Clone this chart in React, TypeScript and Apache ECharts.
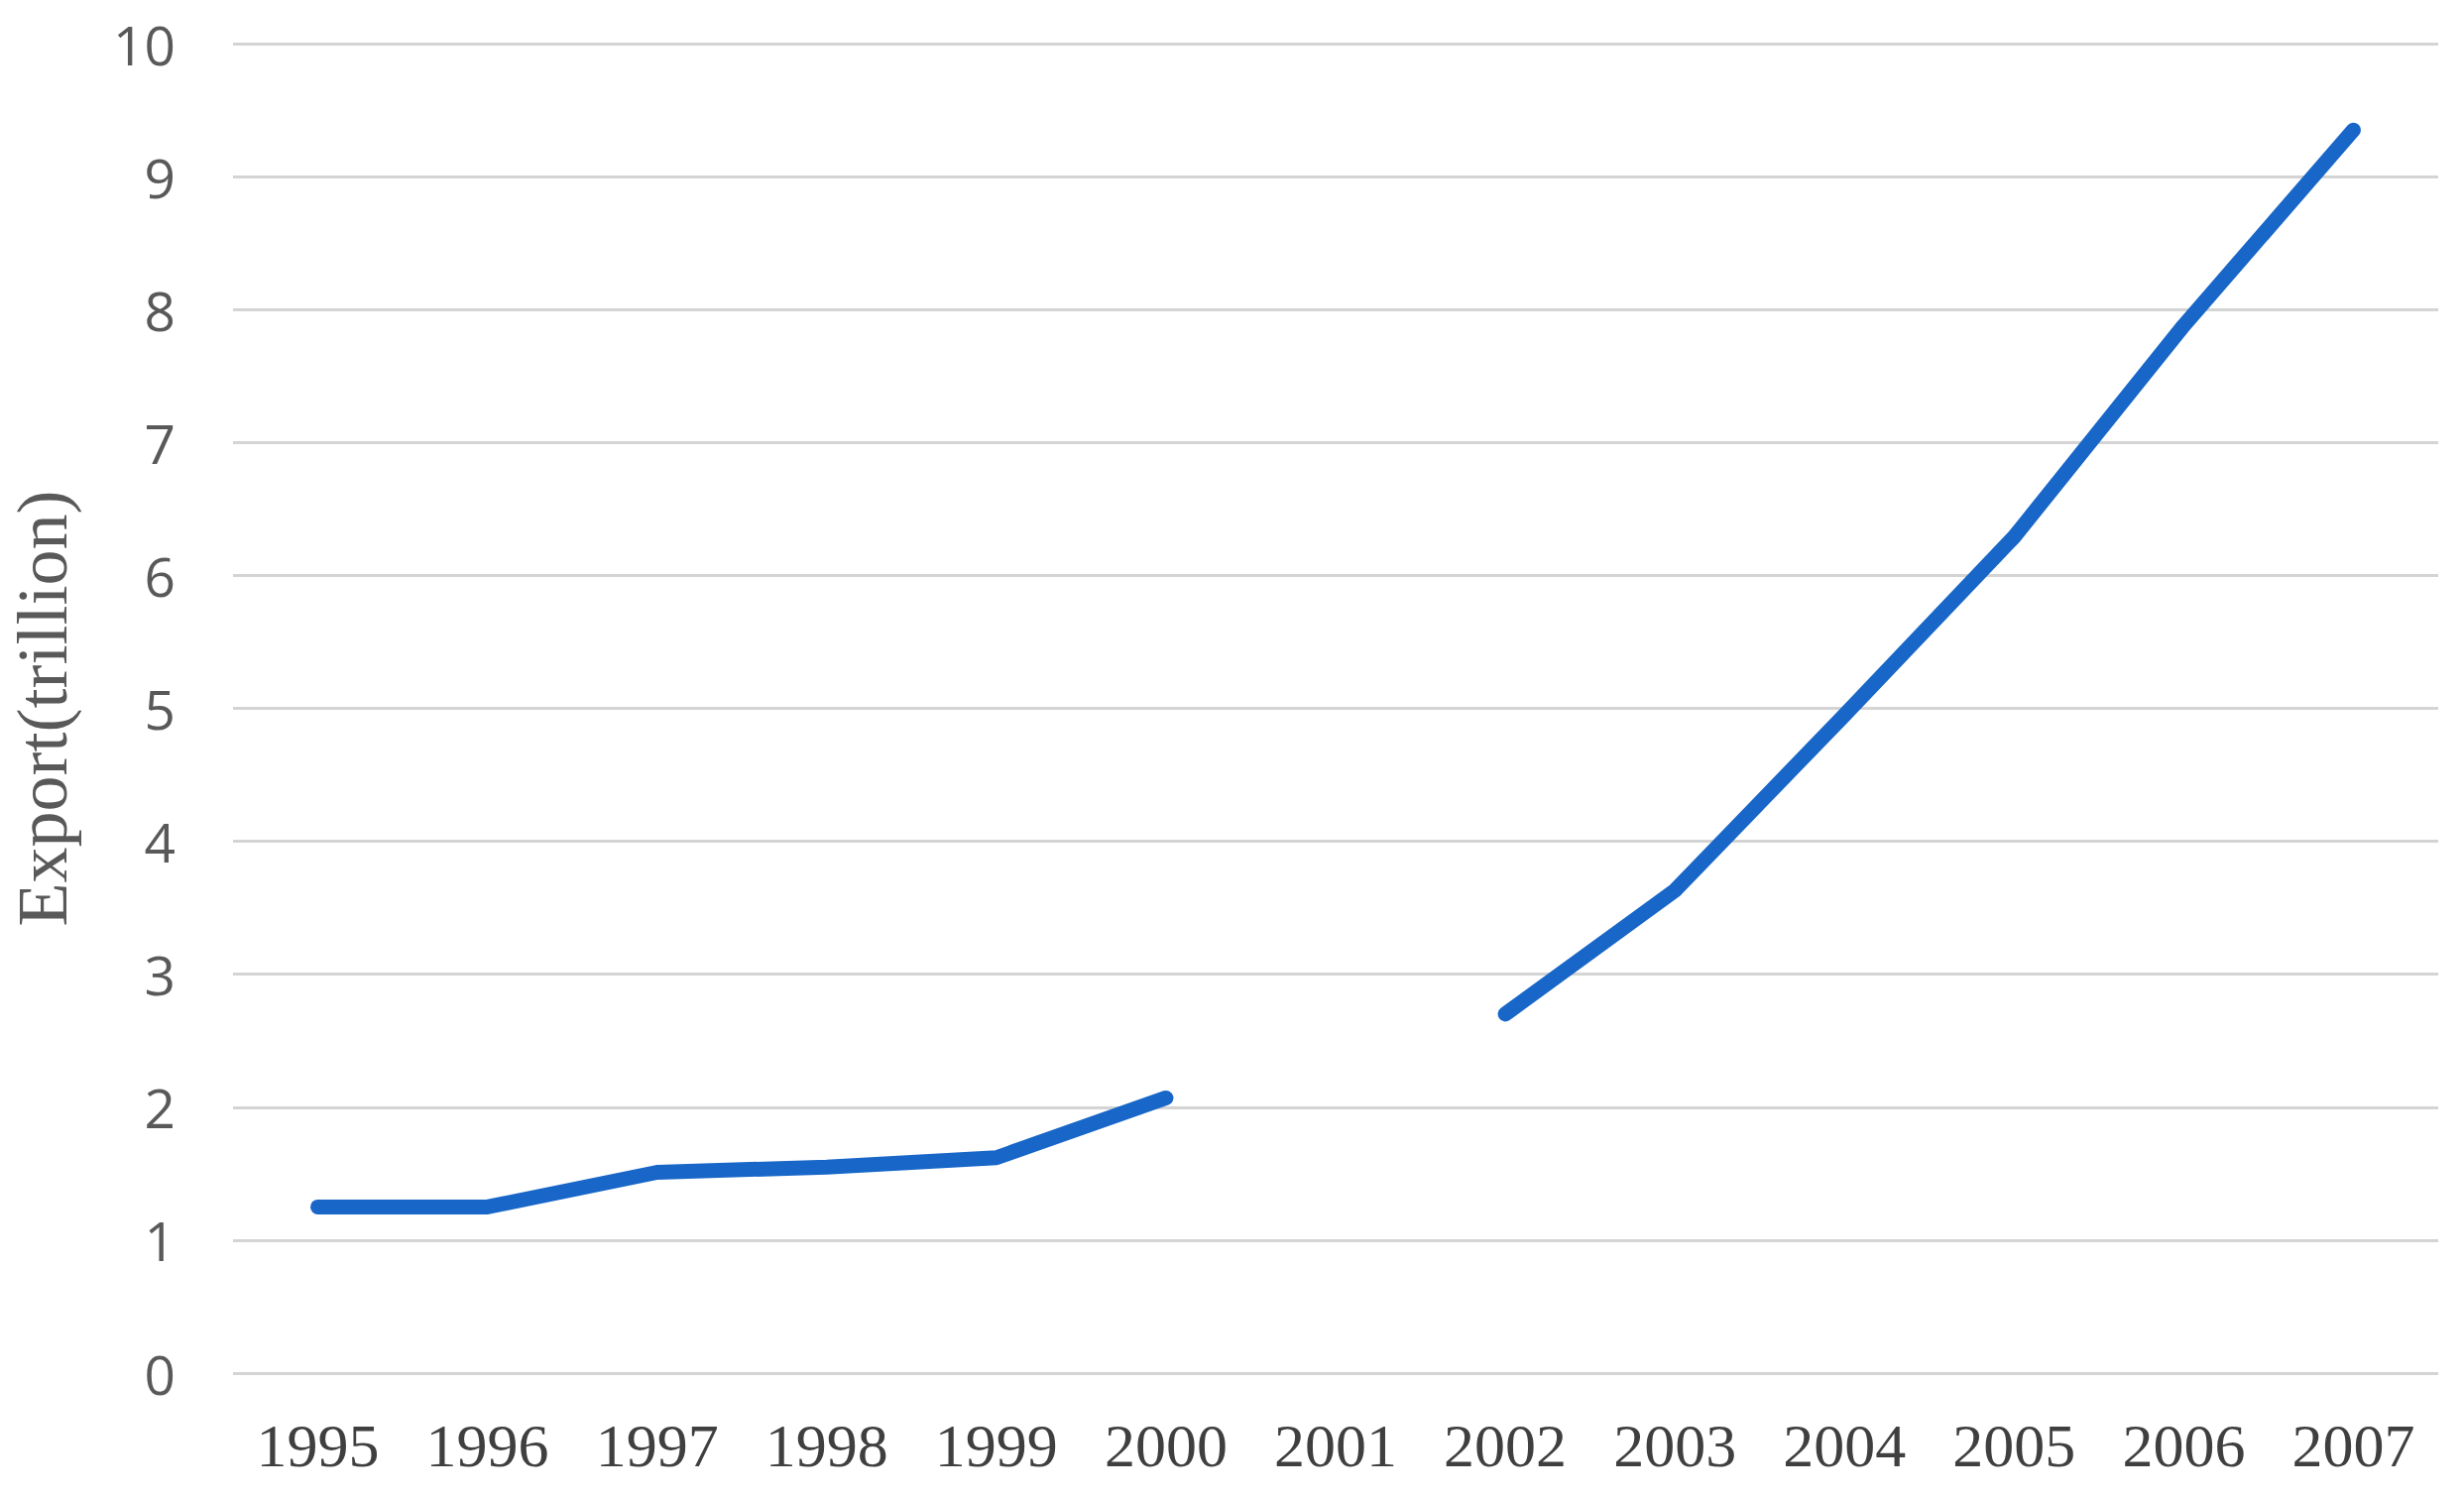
import React, { useEffect, useRef } from "react";
import * as echarts from "echarts";

const years = ["1995","1996","1997","1998","1999","2000","2001","2002","2003","2004","2005","2006","2007"];
const exportValues: (number | null)[] = [1.25, 1.25, 1.51, 1.55, 1.62, 2.07, null, 2.70, 3.63, 4.95, 6.29, 7.88, 9.35];
const yAxisTitle = "Export(trillion)";

export default function App() {
  const ref = useRef<HTMLDivElement>(null);
  useEffect(() => {
    if (!ref.current) return;
    const chart = echarts.init(ref.current, null, { renderer: "svg" });
    chart.setOption({
      animation: false,
      backgroundColor: "#ffffff",
      grid: { left: 235, right: 26, top: 44, bottom: 126, containLabel: false, outerBoundsMode: "none" },
      xAxis: {
        type: "category",
        data: years,
        boundaryGap: true,
        axisLine: { show: false },
        axisTick: { show: false },
        axisLabel: {
          color: "#3f3f3f",
          fontFamily: "Liberation Serif",
          fontSize: 62,
          margin: 42,
        },
        splitLine: { show: false },
      },
      yAxis: {
        type: "value",
        min: 0,
        max: 10,
        interval: 1,
        name: yAxisTitle,
        nameLocation: "middle",
        nameGap: 156,
        nameRotate: 90,
        nameTextStyle: {
          color: "#595959",
          fontFamily: "Liberation Serif",
          fontSize: 72,
        },
        axisLine: { show: false },
        axisTick: { show: false },
        axisLabel: {
          color: "#595959",
          fontFamily: "Open Sans",
          fontSize: 55,
          margin: 58,
        },
        splitLine: { show: true, lineStyle: { color: "#d4d4d4", width: 3 } },
      },
      series: [
        {
          type: "line",
          data: exportValues,
          connectNulls: false,
          symbol: "none",
          lineStyle: { color: "#1766c8", width: 15, cap: "round", join: "round" },
          itemStyle: { color: "#1766c8" },
        },
      ],
    });
    return () => chart.dispose();
  }, []);
  return (
    <div
      ref={ref}
      style={{ position: "absolute", left: 0, top: 0, width: 2485, height: 1511 }}
    />
  );
}
